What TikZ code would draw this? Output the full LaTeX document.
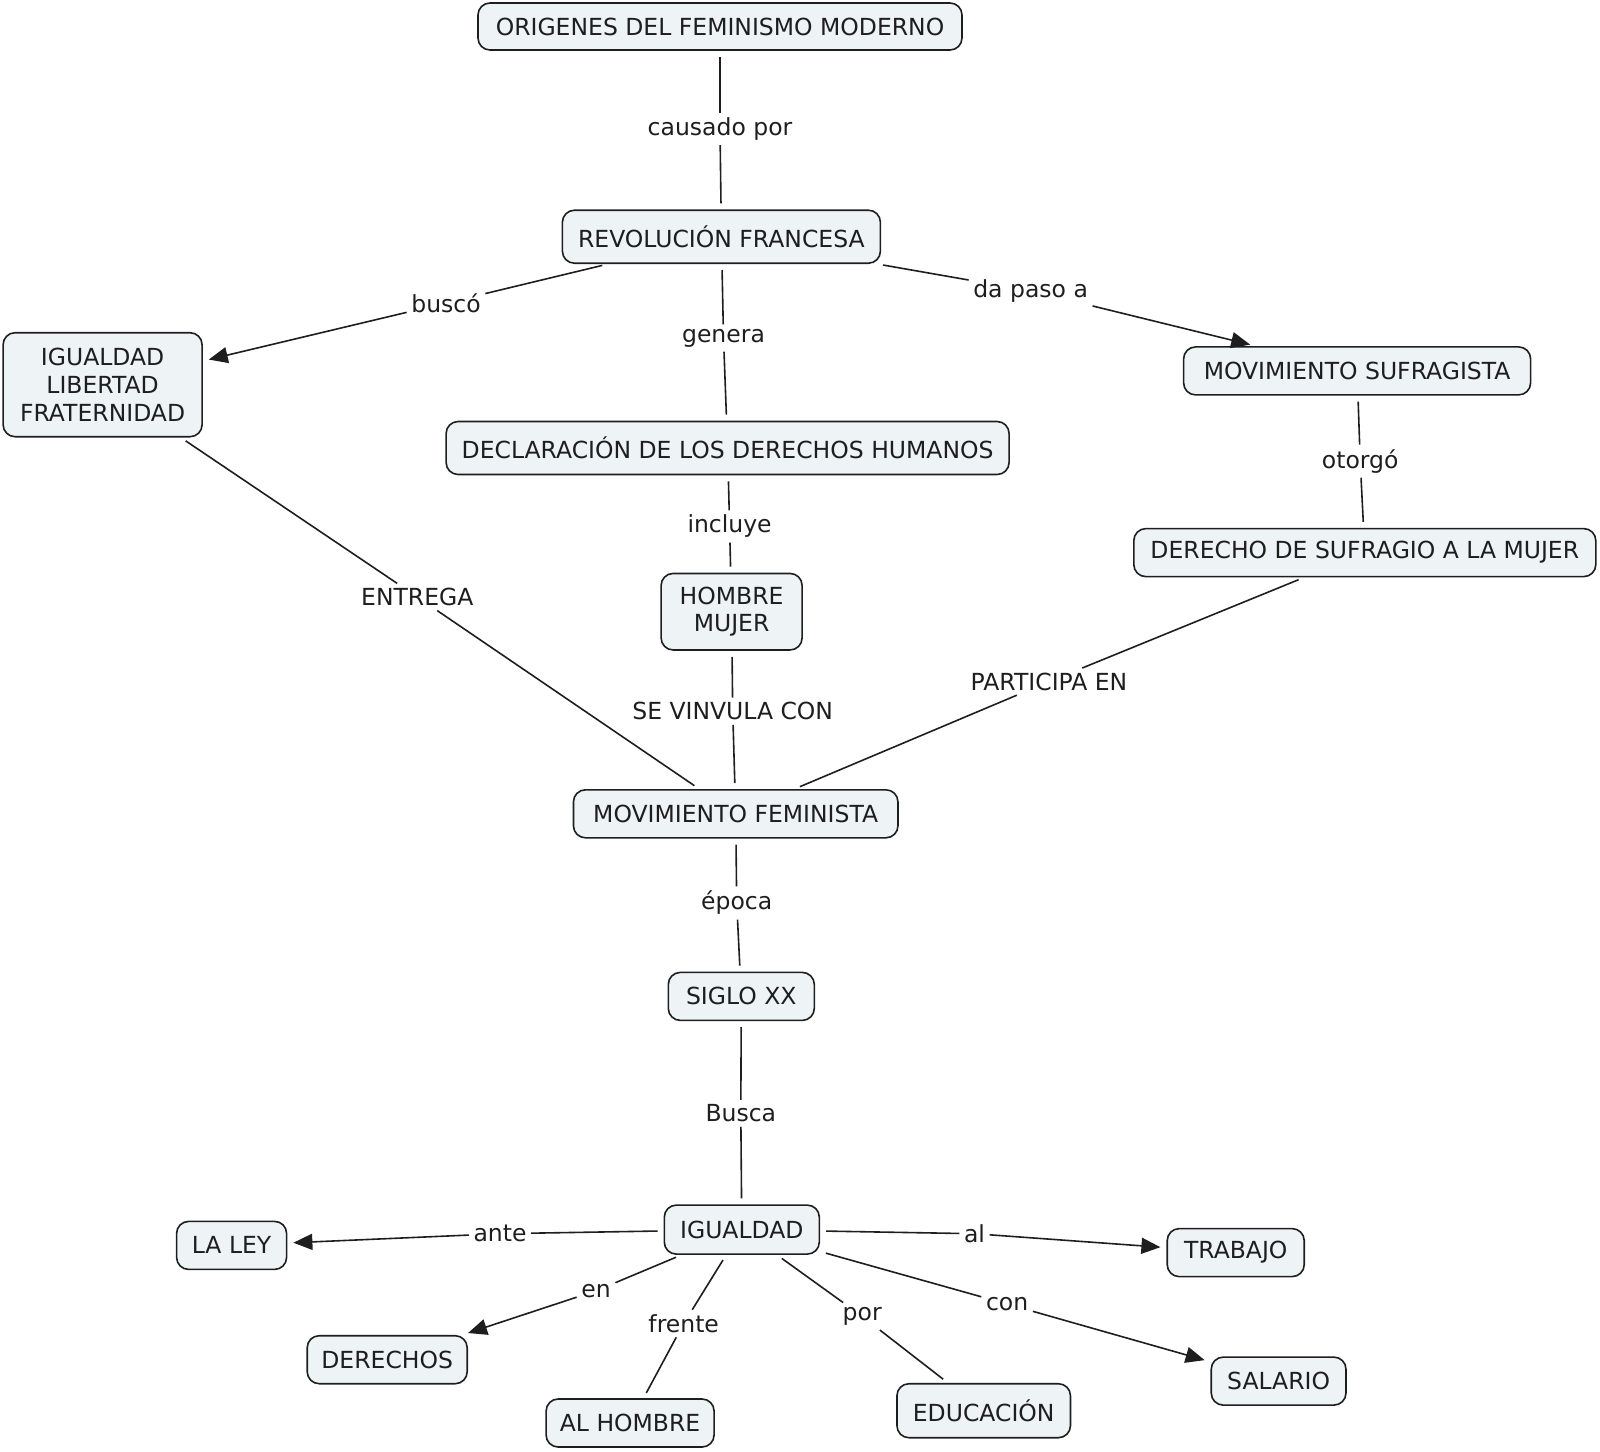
\documentclass[tikz,border=0pt]{standalone}
\usepackage{fontspec}
\setmainfont{DejaVu Sans}
\usetikzlibrary{arrows.meta}
\definecolor{boxfill}{HTML}{EEF3F5}
\definecolor{ink}{HTML}{1E1E1E}
\begin{document}
\begin{tikzpicture}[x=1pt,y=-1pt,
  font=\fontsize{23.5}{27.6}\selectfont,
  concept/.style={draw=ink,fill=boxfill,line width=1.6pt,rounded corners=12pt,
    inner sep=0pt,align=center,text=ink},
  lbl/.style={inner sep=4.5pt,text=ink},
  link/.style={draw=ink,line width=1.6pt},
  from/.style={link,shorten <=6pt},
  to/.style={link,shorten >=6pt},
  toarr/.style={link,shorten >=6pt,-{Triangle[length=19pt,width=16pt]}}]
\useasboundingbox (0,0) rectangle (1600,1451);

% concepts
\node[concept,minimum width=484pt,minimum height=47pt] (orig) at (720,26.5) {ORIGENES DEL FEMINISMO MODERNO};
\node[concept,minimum width=318pt,minimum height=53pt] (rev) at (721.4,236.7) {REVOLUCIÓN FRANCESA};
\node[concept,minimum width=199pt,minimum height=104pt] (ilf) at (102.6,384.7) {IGUALDAD\\LIBERTAD\\FRATERNIDAD};
\node[concept,minimum width=347pt,minimum height=48pt] (ms) at (1357.1,370.9) {MOVIMIENTO SUFRAGISTA};
\node[concept,minimum width=563pt,minimum height=53pt] (decl) at (727.6,448) {DECLARACIÓN DE LOS DERECHOS HUMANOS};
\node[concept,minimum width=462pt,minimum height=48pt] (dsm) at (1364.8,552.6) {DERECHO DE SUFRAGIO A LA MUJER};
\node[concept,minimum width=141pt,minimum height=76.5pt] (hm) at (731.6,611.7) {HOMBRE\\MUJER};
\node[concept,minimum width=324.5pt,minimum height=48pt] (mf) at (735.7,813.8) {MOVIMIENTO FEMINISTA};
\node[concept,minimum width=146pt,minimum height=48pt] (sxx) at (741.3,996.4) {SIGLO XX};
\node[concept,minimum width=155pt,minimum height=49pt] (igu) at (741.8,1229.6) {IGUALDAD};
\node[concept,minimum width=110pt,minimum height=48pt] (ley) at (231.6,1245.4) {LA LEY};
\node[concept,minimum width=137pt,minimum height=48pt] (trab) at (1235.7,1252.6) {TRABAJO};
\node[concept,minimum width=160pt,minimum height=48pt] (der) at (387.2,1359.7) {DERECHOS};
\node[concept,minimum width=168pt,minimum height=48pt] (alh) at (630.1,1423) {AL HOMBRE};
\node[concept,minimum width=173.5pt,minimum height=54pt] (edu) at (983.7,1410.7) {EDUCACIÓN};
\node[concept,minimum width=134.7pt,minimum height=48pt] (sal) at (1278.6,1381.1) {SALARIO};

% link labels
\node[lbl] (l1) at (720,129) {causado por};
\node[lbl] (l2) at (446,303) {buscó};
\node[lbl] (l3) at (723.5,338) {genera};
\node[lbl] (l4) at (1030.6,290.8) {da paso a};
\node[lbl] (l5) at (1360.2,461.2) {otorgó};
\node[lbl] (l6) at (729.6,526.5) {incluye};
\node[lbl] (l7) at (417.3,597) {ENTREGA};
\node[lbl] (l8) at (732.7,711.2) {SE VINVULA CON};
\node[lbl] (l9) at (1049,681.6) {PARTICIPA EN};
\node[lbl] (l10) at (736.7,903) {época};
\node[lbl] (l11) at (740.8,1113.3) {Busca};
\node[lbl] (l12) at (500,1233.7) {ante};
\node[lbl] (l13) at (974.5,1233.7) {al};
\node[lbl] (l14) at (596,1290.8) {en};
\node[lbl] (l15) at (683.7,1323.5) {frente};
\node[lbl] (l16) at (862.2,1316.3) {por};
\node[lbl] (l17) at (1007.1,1304) {con};

% connectors
\draw[from] (orig) -- (l1); \draw[to] (l1) -- (rev);
\draw[from] (rev) -- (l2); \draw[toarr] (l2) -- (ilf);
\draw[from] (rev) -- (l3); \draw[to] (l3) -- (decl);
\draw[from] (rev) -- (l4); \draw[toarr] (l4) -- (ms);
\draw[from] (ms) -- (l5); \draw[to] (l5) -- (dsm);
\draw[from] (decl) -- (l6); \draw[to] (l6) -- (hm);
\draw[from] (ilf) -- (l7); \draw[to] (l7) -- (mf);
\draw[from] (hm) -- (l8); \draw[to] (l8) -- (mf);
\draw[from] (dsm) -- (l9); \draw[to] (l9) -- (mf);
\draw[from] (mf) -- (l10); \draw[to] (l10) -- (sxx);
\draw[from] (sxx) -- (l11); \draw[to] (l11) -- (igu);
\draw[from] (igu) -- (l12); \draw[toarr] (l12) -- (ley);
\draw[from] (igu) -- (l13); \draw[toarr] (l13) -- (trab);
\draw[from] (igu) -- (l14); \draw[toarr] (l14) -- (der);
\draw[from] (igu) -- (l15); \draw[to] (l15) -- (alh);
\draw[from] (igu) -- (l16); \draw[to] (l16) -- (edu);
\draw[from] (igu) -- (l17); \draw[toarr] (l17) -- (sal);
\end{tikzpicture}
\end{document}
